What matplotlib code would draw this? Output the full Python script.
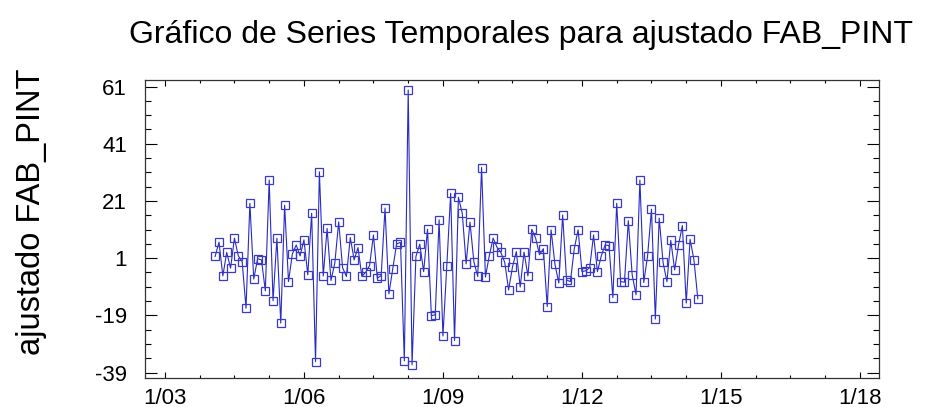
import numpy as np
import pandas as pd
import matplotlib
matplotlib.use("Agg")
import matplotlib.pyplot as plt
from matplotlib.ticker import FixedLocator, FixedFormatter

plt.rcParams['font.family'] = ['Liberation Sans', 'DejaVu Sans']
plt.rcParams['axes.unicode_minus'] = False

# monthly series, starting February 2004
start_year = 2004
start_month = 2
values = [
    1.6, 6.6, -5.2, 3.0, -2.5, 8.0, 1.8, -0.2, -16.5, 20.2,
    -6.3, 0.8, 0.4, -10.4, 28.3, -13.9, 8.0, -21.7, 19.5, -7.2,
    2.5, 5.6, 1.8, 7.4, -4.8, 16.7, -35.2, 31.2, -5.2, 11.4,
    -6.8, -0.7, 13.7, -2.3, -5.4, 8.2, 0.4, 4.7, -5.4, -3.9,
    -1.6, 9.1, -6.0, -5.1, 18.5, -11.5, -2.7, 6.0, 6.5, -34.9,
    59.8, -36.3, 1.6, 5.9, -3.7, 11.1, -19.1, -18.8, 14.4, -26.2,
    -1.6, 23.7, -27.8, 22.3, 16.7, -1.0, 13.6, -0.2, -5.4, 32.7,
    -5.6, 1.9, 8.0, 4.8, 3.0, -0.5, -10.1, -2.1, 3.3, -9.1,
    3.1, -5.2, 11.1, 8.0, 2.2, 4.3, -15.9, 10.9, -1.1, -7.7,
    16.1, -6.6, -7.2, 4.3, 10.9, -3.7, -3.4, -2.3, 9.1, -3.7,
    1.8, 5.6, 5.4, -12.8, 20.2, -7.2, -7.4, 14.1, -4.8, -11.8,
    28.3, -7.5, 1.9, 18.1, -20.3, 15.0, -0.5, -7.2, 7.2, -3.1,
    5.6, 12.4, -14.7, 7.6, 0.4, -13.2,
]
x_tick_years = [2003, 2006, 2009, 2012, 2015, 2018]
x_tick_labels = ["1/03", "1/06", "1/09", "1/12", "1/15", "1/18"]
y_ticks = [-39, -19, 1, 21, 41, 61]

title = "Gráfico de Series Temporales para ajustado FAB_PINT"
ylabel = "ajustado FAB_PINT"

t = start_year + (start_month - 1) / 12 + np.arange(len(values)) / 12.0

fig = plt.figure(figsize=(9.26, 4.07), dpi=100)
ax = fig.add_axes([145 / 926, 1 - 378 / 407, (879 - 145) / 926, (378 - 80) / 407])

col = '#2a2ac4'
ax.plot(t, values, '-', color=col, lw=0.8, marker='s', ms=5.6,
        mfc='none', mec='#3a3ac8', mew=0.9)

ax.set_xlim(2002.57, 2018.41)
ax.set_ylim(-40.9, 63.3)

ax.xaxis.set_major_locator(FixedLocator(x_tick_years))
ax.xaxis.set_major_formatter(FixedFormatter(x_tick_labels))
ax.xaxis.set_minor_locator(FixedLocator(np.arange(2003, 2018.01, 0.75)))
ax.yaxis.set_major_locator(FixedLocator(y_ticks))
ax.yaxis.set_minor_locator(FixedLocator(np.arange(-39, 62, 5)))

ax.tick_params(axis='x', which='major', direction='in', length=4.5, width=0.8,
               top=True, bottom=True, labelsize=16, pad=7)
ax.tick_params(axis='x', which='minor', direction='in', length=2, width=0.8,
               top=True, bottom=True)
ax.tick_params(axis='y', which='major', direction='in', length=8.5, width=0.8,
               left=True, right=True, labelsize=16, pad=13)
ax.tick_params(axis='y', which='minor', direction='in', length=4.5, width=0.8,
               left=True, right=True)
for s in ax.spines.values():
    s.set_linewidth(0.9)
    s.set_color('#333333')

fig.text(521 / 926, 1 - 35 / 407, title, ha='center', va='center', fontsize=23)
fig.text(32 / 926, 1 - 212 / 407, ylabel, ha='center', va='center',
         rotation=90, fontsize=23.5)

fig.savefig('out.png', dpi=100)
